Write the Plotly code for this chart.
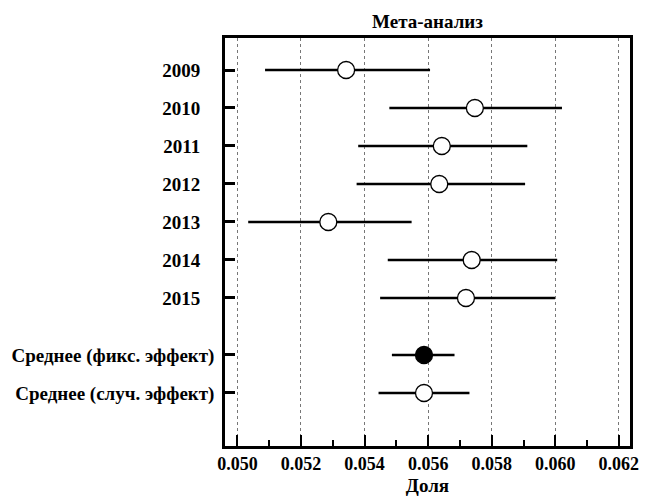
import plotly.graph_objects as go

labels = ["2009", "2010", "2011", "2012", "2013", "2014", "2015",
          "Среднее (фикс. эффект)", "Среднее (случ. эффект)"]
positions = [0, 1, 2, 3, 4, 5, 6, 7.5, 8.5]
estimates = [0.05342, 0.05747, 0.05643, 0.05635, 0.05286, 0.05737, 0.05719, 0.05587, 0.05587]
lower = [0.05087, 0.05478, 0.05380, 0.05375, 0.05034, 0.05473, 0.05449, 0.05486, 0.05444]
upper = [0.05606, 0.06021, 0.05912, 0.05905, 0.05548, 0.06006, 0.05999, 0.05683, 0.05730]
fills = ["white"] * 7 + ["black", "white"]

x_ticks = [0.050, 0.052, 0.054, 0.056, 0.058, 0.060, 0.062]
x_ticktext = ["0.050", "0.052", "0.054", "0.056", "0.058", "0.060", "0.062"]

FONT = "Liberation Serif"

def ylab(t):
    pad = "&nbsp;" * 3 if t.isdigit() else ""
    return "<b>%s</b>%s" % (t, pad)

fig = go.Figure()
fig.add_trace(go.Scatter(
    x=estimates, y=positions, mode="markers",
    marker=dict(size=17, color=fills, line=dict(color="black", width=1.3)),
    error_x=dict(type="data", symmetric=False,
                 array=[u - e for u, e in zip(upper, estimates)],
                 arrayminus=[e - l for e, l in zip(estimates, lower)],
                 color="black", thickness=2.5, width=0),
    showlegend=False,
))

fig.update_layout(
    width=650, height=500,
    margin=dict(l=225, r=20, t=38, b=54),
    paper_bgcolor="white", plot_bgcolor="white",
    font=dict(family=FONT, color="black", size=18),
    title=dict(text="<b>Мета-анализ</b>", x=0.5, xref="paper", xanchor="center",
               y=1, yref="paper", yanchor="bottom", pad=dict(b=10),
               font=dict(family=FONT, size=19, color="black")),
    xaxis=dict(
        range=[0.04961, 0.06235],
        tickvals=x_ticks, ticktext=["<b>%s</b>" % t for t in x_ticktext],
        ticks="inside", ticklen=11, tickwidth=2, tickcolor="black",
        minor=dict(dtick=0.001, tick0=0.05, ticks="inside", ticklen=6, tickwidth=2,
                   tickcolor="black", showgrid=False),
        showline=True, linewidth=2.5, linecolor="black", mirror=True,
        showgrid=True, gridcolor="#777777", griddash="dot", gridwidth=1,
        zeroline=False, automargin=False,
        title=dict(text="<b>Доля</b>", font=dict(family=FONT, size=19), standoff=6),
        tickfont=dict(family=FONT, size=18),
    ),
    yaxis=dict(
        range=[9.895, -0.842],
        tickvals=positions, ticktext=[ylab(t) for t in labels],
        ticks="inside", ticklen=10, tickwidth=2.5, tickcolor="black",
        ticklabelstandoff=4, automargin=False,
        showline=True, linewidth=2.5, linecolor="black", mirror=True,
        showgrid=False, zeroline=False,
        tickfont=dict(family=FONT, size=19),
    ),
)

fig.write_html("out.html")
